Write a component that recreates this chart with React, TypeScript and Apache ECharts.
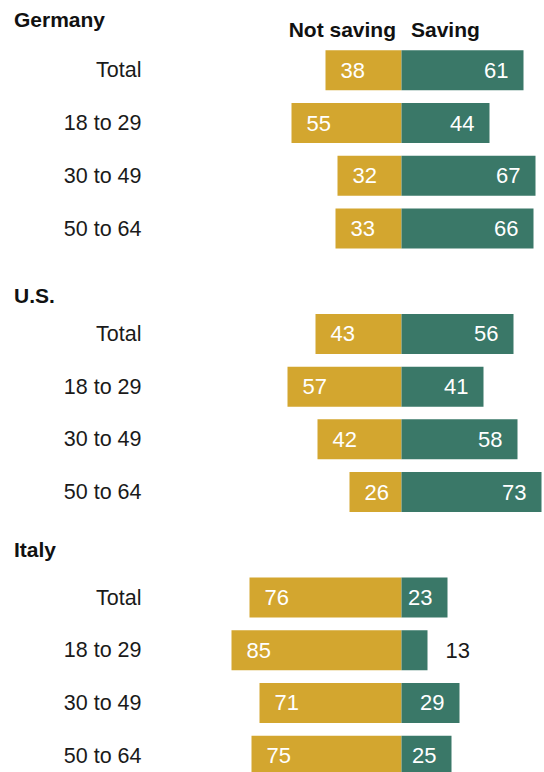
import React, { useEffect, useRef } from "react";
import * as echarts from "echarts";

const rowLabels = [
  "Total", "18 to 29", "30 to 49", "50 to 64", "",
  "Total", "18 to 29", "30 to 49", "50 to 64", "",
  "Total", "18 to 29", "30 to 49", "50 to 64",
];
const groups = ["Germany", "U.S.", "Italy"];
const notSavingGermany = [38, 55, 32, 33];
const savingGermany = [61, 44, 67, 66];
const notSavingUS = [43, 57, 42, 26];
const savingUS = [56, 41, 58, 73];
const notSavingItaly = [76, 85, 71, 75];
const savingItaly = [23, 13, 29, 25];
const seriesNames = ["Not saving", "Saving"];

const GOLD = "#D3A62F";
const GREEN = "#3A7868";
const FONT = "'Liberation Sans', Arial, sans-serif";

export default function App() {
  const ref = useRef<HTMLDivElement>(null);
  useEffect(() => {
    document.body.style.margin = "0";
    document.body.style.overflow = "hidden";
    document.documentElement.style.overflow = "hidden";
    const chart = echarts.init(ref.current!, null, { renderer: "svg" });
    const notSaving: (number | null)[] = [
      ...notSavingGermany, null, ...notSavingUS, null, ...notSavingItaly,
    ];
    const saving: (number | null)[] = [
      ...savingGermany, null, ...savingUS, null, ...savingItaly,
    ];
    const nsData = notSaving.map((v) => (v == null ? null : -v));
    const sData = saving.map((v) =>
      v == null
        ? null
        : v < 20
        ? {
            value: v,
            label: { position: "right", distance: 18, color: "#1a1a1a" },
          }
        : v
    );
    const headerStyle = {
      font: `bold 21px ${FONT}`,
      fill: "#111",
      verticalAlign: "middle",
    };
    chart.setOption({
      animation: false,
      grid: { left: 201.5, width: 340, top: 44, height: 738, containLabel: false },
      xAxis: {
        type: "value",
        min: -100,
        max: 70,
        show: false,
      },
      yAxis: {
        type: "category",
        inverse: true,
        data: rowLabels,
        axisLine: { show: false },
        axisTick: { show: false },
        axisLabel: {
          margin: 60,
          fontSize: 21.5,
          fontFamily: FONT,
          color: "#1a1a1a",
        },
      },
      series: [
        {
          name: seriesNames[0],
          type: "bar",
          data: nsData,
          barWidth: 40,
          barGap: "-100%",
          itemStyle: { color: GOLD },
          label: {
            show: true,
            position: "insideLeft",
            distance: 15,
            color: "#fff",
            fontSize: 22,
            fontFamily: FONT,
            formatter: (p: any) => String(Math.abs(p.value)),
          },
        },
        {
          name: seriesNames[1],
          type: "bar",
          data: sData,
          barWidth: 40,
          barGap: "-100%",
          itemStyle: { color: GREEN },
          label: {
            show: true,
            position: "insideRight",
            distance: 15,
            color: "#fff",
            fontSize: 22,
            fontFamily: FONT,
          },
        },
      ],
      graphic: [
        { type: "text", x: 14, y: 19.5, style: { ...headerStyle, text: groups[0] } },
        { type: "text", x: 14, y: 295, style: { ...headerStyle, text: groups[1] } },
        { type: "text", x: 14, y: 549, style: { ...headerStyle, text: groups[2] } },
        {
          type: "text",
          x: 396,
          y: 29.5,
          style: { ...headerStyle, text: seriesNames[0], align: "right" },
        },
        {
          type: "text",
          x: 411,
          y: 29.5,
          style: { ...headerStyle, text: seriesNames[1], align: "left" },
        },
      ],
    });
    return () => chart.dispose();
  }, []);
  return (
    <div
      ref={ref}
      style={{ position: "absolute", left: 0, top: 0, width: 544, height: 790 }}
    />
  );
}
